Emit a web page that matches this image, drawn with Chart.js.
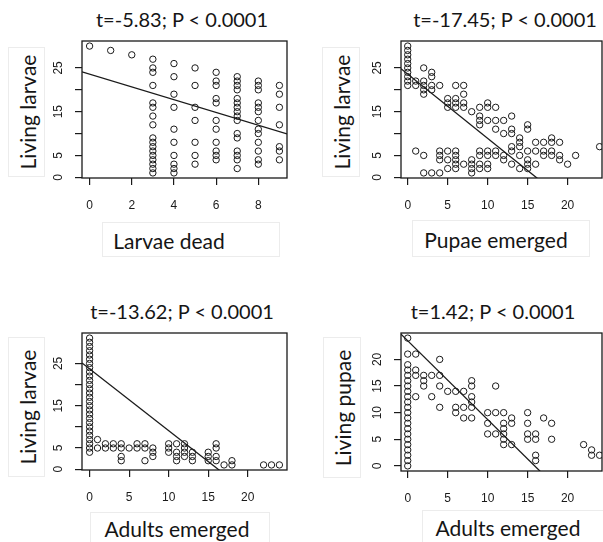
<!DOCTYPE html>
<html>
<head>
<meta charset="utf-8">
<script src="https://cdn.jsdelivr.net/npm/chart.js@4.4.0/dist/chart.umd.min.js"></script>
<style>
  html, body { margin: 0; padding: 0; background: #fff; overflow: hidden; }
  #wrap { position: relative; width: 603px; height: 542px; }
  canvas { position: absolute; }
  .title { position: absolute; font-family: Lato, sans-serif; font-size: 20px; color: #151515;
           white-space: nowrap; transform: translate(-50%, -50%); }
  .lab { position: absolute; background: #fff; border: 1px solid #ececec; box-sizing: border-box; }
  .lab span { position: absolute; left: 50%; top: 50%; font-family: Lato, sans-serif; font-size: 21px;
              color: #151515; white-space: nowrap; transform: translate(-50%, -50%); }
  .lab.vert span { transform: translate(-50%, -50%) rotate(-90deg); }
</style>
</head>
<body>
<div id="wrap">
  <div class="title" style="left:182px; top:19px">t=-5.83; P &lt; 0.0001</div>
  <div class="title" style="left:505px; top:19px">t=-17.45; P &lt; 0.0001</div>
  <div class="title" style="left:182px; top:311px">t=-13.62; P &lt; 0.0001</div>
  <div class="title" style="left:493px; top:311px">t=1.42; P &lt; 0.0001</div>

  <div class="lab vert" style="left:8px; top:47px; width:37px; height:130px"><span>Living larvae</span></div>
  <div class="lab vert" style="left:322px; top:47px; width:38px; height:130px"><span>Living larvae</span></div>
  <div class="lab vert" style="left:8px; top:337px; width:37px; height:140px"><span>Living larvae</span></div>
  <div class="lab vert" style="left:323px; top:337px; width:38px; height:141px"><span>Living pupae</span></div>

  <div class="lab" style="left:102px; top:222px; width:178px; height:35px"><span style="left:66px">Larvae dead</span></div>
  <div class="lab" style="left:412px; top:220px; width:178px; height:37px"><span style="left:83px">Pupae emerged</span></div>
  <div class="lab" style="left:90px; top:512px; width:180px; height:32px"><span style="left:86px">Adults emerged</span></div>
  <div class="lab" style="left:422px; top:510px; width:183px; height:34px"><span style="left:85px">Adults emerged</span></div>

  <canvas id="c1" width="300" height="230" style="left:0; top:0"></canvas>
  <canvas id="c2" width="303" height="230" style="left:300px; top:0"></canvas>
  <canvas id="c3" width="300" height="230" style="left:0; top:290px"></canvas>
  <canvas id="c4" width="303" height="230" style="left:300px; top:290px"></canvas>
</div>
<script>
// Panel 1: living larvae vs larvae dead
const p1X = [0, 1, 2, 3, 4, 5, 6, 7, 8, 9];
const p1Y = [
  [30], [29], [28],
  [27, 25, 24, 21, 17, 16, 14, 12, 9, 8, 7, 6, 5, 4, 3, 2, 1],
  [26, 23, 19, 16, 11, 8, 5, 3, 2, 1],
  [25, 21, 16, 13, 8, 5, 3],
  [24, 22, 21, 18, 17, 13, 11, 8, 6, 5, 4],
  [23, 22, 21, 20, 18, 17, 16, 15, 14, 13, 10, 9, 6, 5, 4, 2],
  [22, 21, 20, 17, 16, 15, 13, 11, 10, 8, 6, 4, 3],
  [21, 19, 16, 12, 7, 6, 4]
];

// Panel 2: living larvae vs pupae emerged
const p2X = [0, 1, 2, 3, 4, 5, 6, 7, 8, 9, 10, 11, 12, 13, 14, 15, 16, 17, 18, 19, 20, 21, 24];
const p2Y = [
  [30, 29, 28, 27, 26, 25, 24, 23, 22, 21],
  [22, 21, 6],
  [25, 22, 21, 20, 19, 5, 1],
  [24, 23, 21, 20, 1],
  [21, 6, 5, 4, 1],
  [18, 17, 16, 6, 4, 2],
  [21, 18, 17, 16, 6, 5, 4, 3, 2],
  [21, 19, 17, 16, 3],
  [15, 4, 3, 2, 1],
  [16, 14, 13, 12, 6, 5, 3, 2],
  [17, 16, 13, 6, 5, 3, 2],
  [16, 13, 11, 6, 5],
  [13, 10, 5, 4],
  [14, 11, 10, 7, 6, 3],
  [9, 8, 7, 5, 2],
  [12, 11, 6, 4, 3, 2],
  [8, 6, 3],
  [8, 6, 5],
  [9, 8, 6, 5],
  [8, 5, 4],
  [3], [5], [7]
];

// Panel 3: living larvae vs adults emerged
const p3X = [0, 1, 2, 3, 4, 5, 6, 7, 8, 10, 11, 12, 13, 15, 16, 17, 18, 22, 23, 24];
const p3Y = [
  [31, 30, 29, 28, 27, 26, 25, 24, 23, 22, 21, 20, 19, 18, 17, 16, 15, 14, 13, 12, 11, 10, 9, 8, 7, 6, 5, 4],
  [7, 5], [6, 5], [6, 5], [6, 5, 3, 2], [5], [6, 5], [6, 5, 2], [5, 4, 3],
  [6, 5, 4], [6, 4, 3, 2], [6, 5, 4, 3], [4, 3, 2], [4, 3, 2], [6, 5, 3, 2],
  [1], [2, 1], [1], [1], [1]
];

// Panel 4: living pupae vs adults emerged
const p4X = [0, 1, 2, 3, 4, 5, 6, 7, 8, 10, 11, 12, 13, 15, 16, 17, 18, 22, 23, 24];
const p4Y = [
  [24, 21, 19, 18, 17, 16, 15, 14, 13, 12, 11, 10, 9, 8, 7, 6, 5, 4, 3, 2, 1, 0],
  [21, 18, 17, 13], [17, 16, 15], [17, 13], [20, 17, 15, 11], [14], [14, 11, 10],
  [14, 11, 9], [16, 15, 13, 12, 11, 9], [10, 8, 6], [15, 10, 6], [10, 8, 7, 6, 5, 4],
  [9, 8, 4], [10, 8, 6, 5], [6, 5, 2, 1], [9], [8, 5], [4], [3, 2], [2]
];

// fitted lines (intercept, slope) per panel
const lineIntercept = [23.6, 23.6, 23.7, 23.5];
const lineSlope = [-1.46, -1.47, -1.46, -1.48];

// axis ranges and ticks
const xRanges = [[-0.36, 9.36], [-0.84, 24.3], [-0.96, 24.96], [-0.84, 24.3]];
const yRanges = [[-0.16, 31.16], [-0.16, 31.16], [-0.2, 32.2], [-0.96, 24.96]];
const xTicksSmall = [0, 2, 4, 6, 8];
const xTicksWide = [0, 5, 10, 15, 20];
const yTicksLarvae = [0, 5, 10, 15, 20, 25];
const yLabelsLarvae = ['0', '5', '', '15', '', '25'];
const yTicksPupae = [0, 5, 10, 15, 20];
const yLabelsPupae = ['0', '5', '10', '15', '20'];

const INK = '#1a1a1a';

function makePanel(id, xs, ys, k, xTicks, yTicks, yLabels, area) {
  const pts = [];
  xs.forEach((x, i) => ys[i].forEach(y => pts.push({ x: x, y: y })));
  const xr = xRanges[k], yr = yRanges[k];
  const a = lineIntercept[k], b = lineSlope[k];
  const canvas = document.getElementById(id);
  const W = canvas.width, H = canvas.height;

  // frame box + vertical y tick labels (R style)
  const frame = {
    id: 'frame',
    afterDraw(chart) {
      const ctx = chart.ctx, ca = chart.chartArea, ys = chart.scales.y;
      ctx.save();
      ctx.strokeStyle = INK;
      ctx.lineWidth = 1.3;
      ctx.strokeRect(ca.left, ca.top, ca.right - ca.left, ca.bottom - ca.top);
      ctx.font = '12px "Liberation Sans", Arial, sans-serif';
      ctx.fillStyle = INK;
      ctx.textAlign = 'center';
      ctx.textBaseline = 'middle';
      yTicks.forEach((v, i) => {
        if (!yLabels[i]) return;
        ctx.save();
        ctx.translate(ca.left - 23, ys.getPixelForValue(v));
        ctx.rotate(-Math.PI / 2);
        ctx.fillText(yLabels[i], 0, 0);
        ctx.restore();
      });
      ctx.restore();
    }
  };

  new Chart(canvas, {
    type: 'scatter',
    data: {
      datasets: [
        {
          data: pts,
          pointRadius: 3.2,
          pointHoverRadius: 3.2,
          pointBorderWidth: 1,
          borderColor: INK,
          backgroundColor: 'rgba(0,0,0,0)'
        },
        {
          type: 'line',
          data: [{ x: xr[0], y: a + b * xr[0] }, { x: xr[1], y: a + b * xr[1] }],
          borderColor: INK,
          borderWidth: 1.3,
          pointRadius: 0,
          fill: false
        }
      ]
    },
    options: {
      responsive: false,
      animation: false,
      events: [],
      layout: {
        autoPadding: false,
        padding: { left: area.left - 30, top: area.top, right: W - area.right, bottom: H - area.bottom - 40 }
      },
      plugins: { legend: { display: false }, tooltip: { enabled: false } },
      scales: {
        x: {
          type: 'linear', min: xr[0], max: xr[1],
          border: { display: false },
          grid: { drawOnChartArea: false, drawTicks: true, tickLength: 7, color: INK, lineWidth: 1.2 },
          ticks: { font: { family: 'Liberation Sans', size: 12 }, color: INK, padding: 13, maxRotation: 0 },
          afterBuildTicks: s => { s.ticks = xTicks.map(v => ({ value: v })); },
          afterFit: s => { s.height = 40; }
        },
        y: {
          type: 'linear', min: yr[0], max: yr[1],
          border: { display: false },
          grid: { drawOnChartArea: false, drawTicks: true, tickLength: 7, color: INK, lineWidth: 1.2 },
          ticks: { display: false },
          afterBuildTicks: s => { s.ticks = yTicks.map(v => ({ value: v })); },
          afterFit: s => { s.width = 30; }
        }
      }
    },
    plugins: [frame]
  });
}

makePanel('c1', p1X, p1Y, 0, xTicksSmall, yTicksLarvae, yLabelsLarvae, { left: 82, top: 41, right: 287, bottom: 178 });
makePanel('c2', p2X, p2Y, 1, xTicksWide, yTicksLarvae, yLabelsLarvae, { left: 101, top: 41, right: 302, bottom: 178 });
makePanel('c3', p3X, p3Y, 2, xTicksWide, yTicksLarvae, yLabelsLarvae, { left: 82, top: 43, right: 287, bottom: 180 });
makePanel('c4', p4X, p4Y, 3, xTicksWide, yTicksPupae, yLabelsPupae, { left: 101, top: 43, right: 302, bottom: 181 });
</script>
</body>
</html>
